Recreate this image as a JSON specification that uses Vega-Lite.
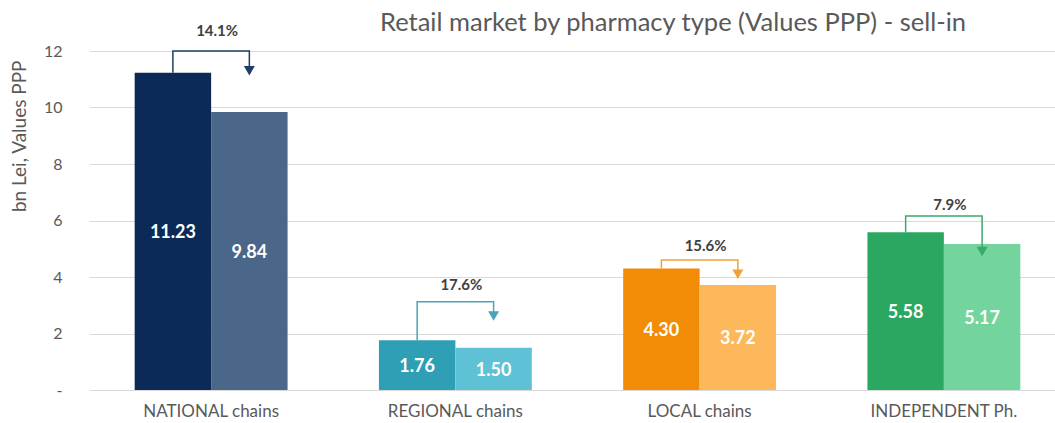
{
  "$schema": "https://vega.github.io/schema/vega-lite/v6.json",
  "width": 966,
  "height": 339,
  "autosize": "none",
  "padding": {"left": 89, "top": 51, "right": 0, "bottom": 33},
  "background": "white",
  "config": {"view": {"stroke": null}, "font": "Lato"},
  "title": {
    "text": "Retail market by pharmacy type (Values PPP) - sell-in",
    "anchor": "start",
    "frame": "group",
    "dx": 291,
    "offset": -12,
    "fontSize": 25.5,
    "fontWeight": "normal",
    "color": "#595959",
    "font": "Lato"
  },
  "datasets": {
    "bars": [
      {"type": "NATIONAL chains", "period": "A", "value": 11.23, "key": "NAT_A"},
      {"type": "NATIONAL chains", "period": "B", "value": 9.84, "key": "NAT_B"},
      {"type": "REGIONAL chains", "period": "A", "value": 1.76, "key": "REG_A"},
      {"type": "REGIONAL chains", "period": "B", "value": 1.50, "key": "REG_B"},
      {"type": "LOCAL chains", "period": "A", "value": 4.30, "key": "LOC_A"},
      {"type": "LOCAL chains", "period": "B", "value": 3.72, "key": "LOC_B"},
      {"type": "INDEPENDENT Ph.", "period": "A", "value": 5.58, "key": "IND_A"},
      {"type": "INDEPENDENT Ph.", "period": "B", "value": 5.17, "key": "IND_B"}
    ],
    "brackets": [
      {"type": "NATIONAL chains", "period": "A", "y": 11.23, "step": 0, "key": "NAT_br"},
      {"type": "NATIONAL chains", "period": "A", "y": 12.0, "step": 1, "key": "NAT_br"},
      {"type": "NATIONAL chains", "period": "B", "y": 12.0, "step": 2, "key": "NAT_br"},
      {"type": "NATIONAL chains", "period": "B", "y": 11.3, "step": 3, "key": "NAT_br"},
      {"type": "REGIONAL chains", "period": "A", "y": 1.76, "step": 0, "key": "REG_br"},
      {"type": "REGIONAL chains", "period": "A", "y": 3.12, "step": 1, "key": "REG_br"},
      {"type": "REGIONAL chains", "period": "B", "y": 3.12, "step": 2, "key": "REG_br"},
      {"type": "REGIONAL chains", "period": "B", "y": 2.62, "step": 3, "key": "REG_br"},
      {"type": "LOCAL chains", "period": "A", "y": 4.30, "step": 0, "key": "LOC_br"},
      {"type": "LOCAL chains", "period": "A", "y": 4.6, "step": 1, "key": "LOC_br"},
      {"type": "LOCAL chains", "period": "B", "y": 4.6, "step": 2, "key": "LOC_br"},
      {"type": "LOCAL chains", "period": "B", "y": 4.1, "step": 3, "key": "LOC_br"},
      {"type": "INDEPENDENT Ph.", "period": "A", "y": 5.58, "step": 0, "key": "IND_br"},
      {"type": "INDEPENDENT Ph.", "period": "A", "y": 6.16, "step": 1, "key": "IND_br"},
      {"type": "INDEPENDENT Ph.", "period": "B", "y": 6.16, "step": 2, "key": "IND_br"},
      {"type": "INDEPENDENT Ph.", "period": "B", "y": 4.9, "step": 3, "key": "IND_br"}
    ],
    "arrows": [
      {"type": "NATIONAL chains", "period": "B", "y": 11.3, "key": "NAT_br"},
      {"type": "REGIONAL chains", "period": "B", "y": 2.62, "key": "REG_br"},
      {"type": "LOCAL chains", "period": "B", "y": 4.1, "key": "LOC_br"},
      {"type": "INDEPENDENT Ph.", "period": "B", "y": 4.9, "key": "IND_br"}
    ],
    "pcts": [
      {"type": "NATIONAL chains", "pct": 0.141, "y": 12.7},
      {"type": "REGIONAL chains", "pct": 0.176, "y": 3.72},
      {"type": "LOCAL chains", "pct": 0.156, "y": 5.1},
      {"type": "INDEPENDENT Ph.", "pct": 0.079, "y": 6.55}
    ]
  },
  "encoding": {
    "x": {
      "field": "type",
      "type": "nominal",
      "sort": ["NATIONAL chains", "REGIONAL chains", "LOCAL chains", "INDEPENDENT Ph."],
      "scale": {"range": [0, 977], "paddingInner": 0.374, "paddingOuter": 0.187},
      "axis": {
        "title": null,
        "labelAngle": 0,
        "domain": false,
        "ticks": false,
        "labelFontSize": 17,
        "labelColor": "#595959",
        "labelPadding": 13,
        "labelFont": "Lato"
      }
    }
  },
  "layer": [
    {
      "data": {"name": "bars"},
      "mark": {"type": "bar"},
      "encoding": {
        "xOffset": {"field": "period", "type": "nominal", "scale": {"paddingInner": 0, "paddingOuter": 0}},
        "y": {
          "field": "value",
          "type": "quantitative",
          "scale": {"domain": [0, 12], "nice": false},
          "axis": {
            "title": "bn Lei, Values PPP",
            "titleFontSize": 19,
            "titleFontWeight": "normal",
            "titleColor": "#595959",
            "titleFont": "Lato",
            "titleAnchor": "end",
            "titleAlign": "right",
            "titleBaseline": "middle",
            "titleAngle": -90,
            "titleX": -70,
            "titleY": 9,
            "values": [0, 2, 4, 6, 8, 10, 12],
            "labelExpr": "datum.value == 0 ? '-' : datum.label",
            "labelFontSize": 16,
            "labelColor": "#595959",
            "labelPadding": 27,
            "domain": false,
            "ticks": false,
            "gridColor": "#d9d9d9",
            "gridWidth": 1
          }
        },
        "color": {
          "field": "key",
          "type": "nominal",
          "legend": null,
          "scale": {
            "domain": ["NAT_A", "NAT_B", "REG_A", "REG_B", "LOC_A", "LOC_B", "IND_A", "IND_B", "NAT_br", "REG_br", "LOC_br", "IND_br"],
            "range": ["#0b2a57", "#4a6688", "#2e9fb5", "#5fc1d6", "#f28c06", "#fcb85a", "#2aa862", "#73d59d", "#1f3d68", "#4aa5b8", "#f0a235", "#3aaa6a"]
          }
        }
      }
    },
    {
      "data": {"name": "bars"},
      "transform": [{"calculate": "datum.value / 2", "as": "mid"}],
      "mark": {"type": "text", "color": "white", "fontWeight": "bold", "fontSize": 18, "font": "Lato", "baseline": "middle", "dy": 2},
      "encoding": {
        "xOffset": {"field": "period", "type": "nominal"},
        "y": {"field": "mid", "type": "quantitative"},
        "text": {"field": "value", "type": "quantitative", "format": ".2f"}
      }
    },
    {
      "data": {"name": "brackets"},
      "mark": {"type": "line", "strokeWidth": 1.5, "interpolate": "linear"},
      "encoding": {
        "xOffset": {"field": "period", "type": "nominal"},
        "y": {"field": "y", "type": "quantitative"},
        "order": {"field": "step", "type": "quantitative"},
        "color": {"field": "key", "type": "nominal", "legend": null},
        "detail": {"field": "type"}
      }
    },
    {
      "data": {"name": "arrows"},
      "mark": {"type": "point", "shape": "triangle-down", "filled": true, "size": 120, "opacity": 1},
      "encoding": {
        "xOffset": {"field": "period", "type": "nominal"},
        "y": {"field": "y", "type": "quantitative"},
        "color": {"field": "key", "type": "nominal", "legend": null}
      }
    },
    {
      "data": {"name": "pcts"},
      "mark": {"type": "text", "fontWeight": "bold", "fontSize": 15, "font": "Lato", "color": "#404040", "baseline": "middle", "dx": 6},
      "encoding": {
        "y": {"field": "y", "type": "quantitative"},
        "text": {"field": "pct", "type": "quantitative", "format": ".1%"}
      }
    }
  ]
}
